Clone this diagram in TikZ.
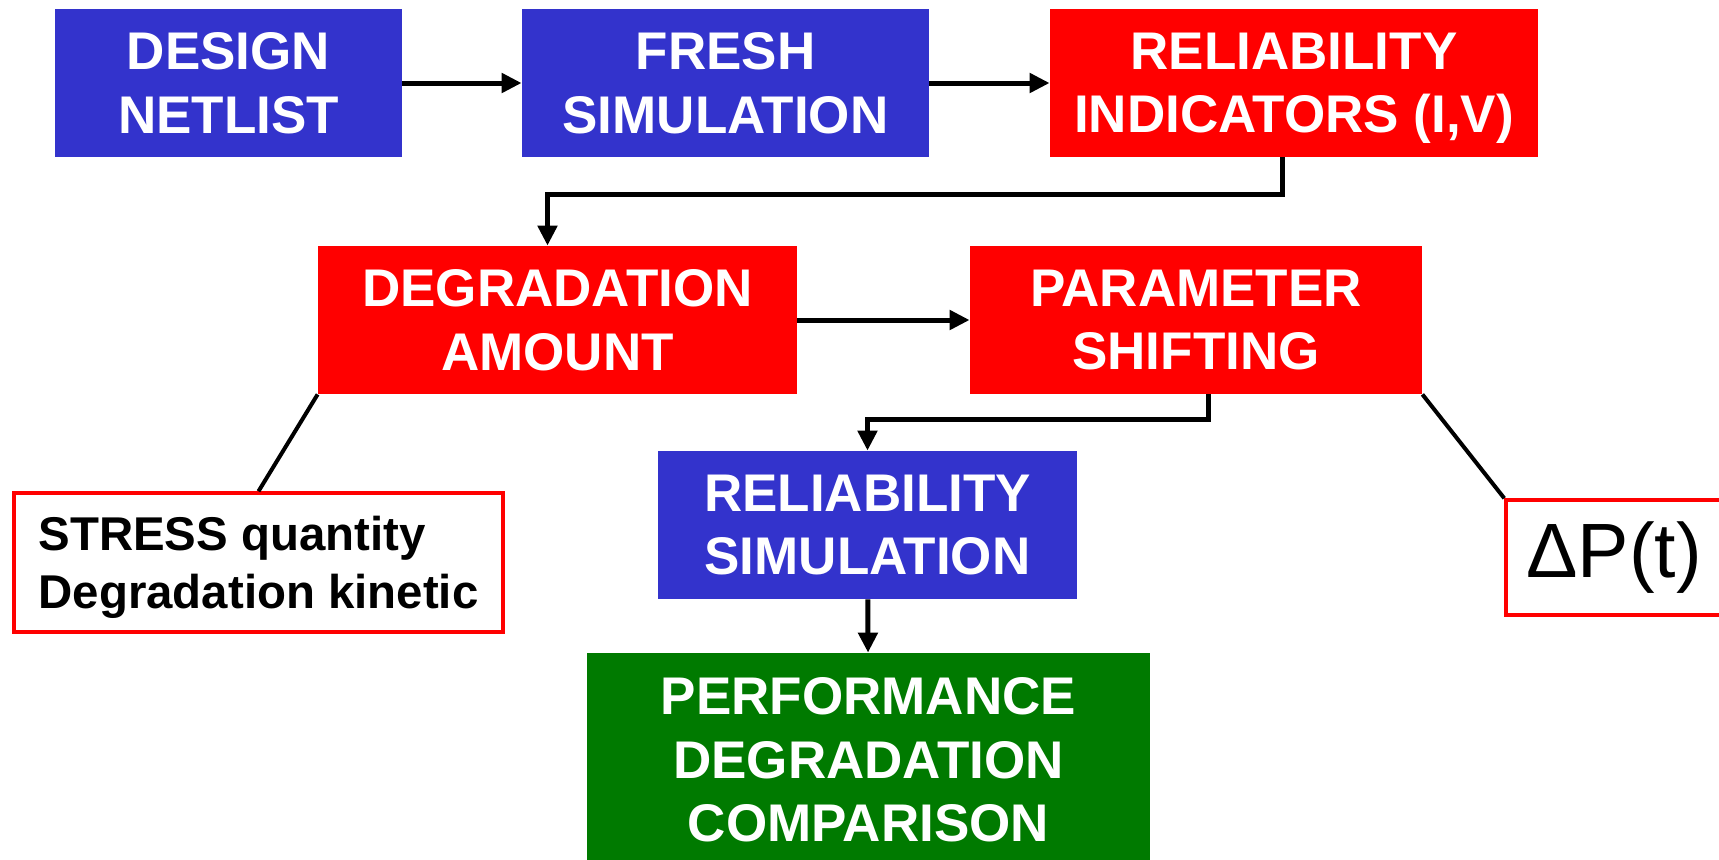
\documentclass[tikz,border=0pt]{standalone}
\usepackage{fontspec}
\setmainfont{Liberation Sans}
\usetikzlibrary{arrows.meta,positioning,calc}
\definecolor{cBlue}{HTML}{3333CC}
\definecolor{cRed}{HTML}{FF0000}
\definecolor{cGreen}{HTML}{007A00}
\tikzset{
  blk/.style={draw=none, text=white, inner sep=0pt, minimum height=74pt, text depth=0pt,
              align=center, font=\fontsize{26.5}{31.75}\selectfont\bfseries},
  blueblk/.style={blk, fill=cBlue},
  redblk/.style={blk, fill=cRed},
  greenblk/.style={blk, fill=cGreen},
  notebox/.style={draw=cRed, line width=1.75pt, fill=white, inner sep=0pt, align=left},
  arr/.style={-{Triangle[length=10pt, width=9.5pt]}, line width=2.5pt, black},
  link/.style={line width=2pt, black}
}

\begin{document}
\begin{tikzpicture}[x=0.5pt, y=-0.5pt]
\useasboundingbox (0,0) rectangle (1719,859);
% flow boxes
\node[blueblk, minimum width=173.5pt] (design) at (228.5,83) {DESIGN\\NETLIST};
\node[blueblk, minimum width=203.5pt] (fresh) at (725.5,83) {FRESH\\SIMULATION};
\node[redblk, minimum width=244pt] (relind) at (1294,83) {RELIABILITY\\INDICATORS (I,V)};
\node[redblk, minimum width=239.5pt] (degr) at (557.5,320) {DEGRADATION\\AMOUNT};
\node[redblk, minimum width=226pt] (param) at (1196,320) {PARAMETER\\SHIFTING};
\node[blueblk, minimum width=209.5pt] (relsim) at (867.5,525) {RELIABILITY\\SIMULATION};
\node[greenblk, minimum width=281.5pt, minimum height=106.5pt] (perf) at (868.5,759.5) {PERFORMANCE\\DEGRADATION\\COMPARISON};
% side notes
\node[notebox, minimum width=244.5pt, minimum height=69.5pt, text depth=0pt,
      font=\fontsize{23.7}{29}\selectfont\bfseries] (stress) at (258.5,562.5) {STRESS quantity\\Degradation kinetic};
\node[notebox, minimum width=108pt, minimum height=57.5pt,
      font=\fontsize{38.5}{40}\selectfont] (dp) at (1614,557.5) {ΔP(t)};
% connectors
\draw[arr] (design) -- (fresh);
\draw[arr] (fresh) -- (relind);
\draw[arr] ([xshift=-6pt]relind.south) -- ++(0,37) -| ([xshift=-5pt]degr.north);
\draw[arr] (degr) -- (param);
\draw[arr] ([xshift=6pt]param.south) -- ++(0,25) -| (relsim.north);
\draw[arr] (relsim) -- (perf);
\draw[link] (degr.south west) -- (stress.north);
\draw[link] (param.south east) -- (dp.north west);
\end{tikzpicture}
\end{document}
